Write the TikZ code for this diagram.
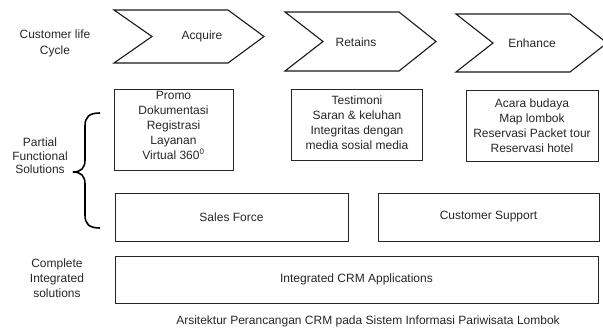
\documentclass[tikz,border=0pt]{standalone}
\usepackage{fontspec}
\setmainfont{Liberation Sans}
\begin{document}
\begin{tikzpicture}[x=1pt,y=-1pt,
  every node/.style={font=\fontsize{12}{15}\selectfont, text=black!85},
  chev/.style={draw=black!90, line width=1.1pt, line join=miter},
  box/.style={draw=black!85, line width=1pt, rectangle, inner sep=0pt},
  lbl/.style={align=center, inner sep=0pt},
  brace/.style={draw=black, line width=1.6pt}]
\useasboundingbox (0,0) rectangle (603,330);
% chevrons
\draw[chev] (114,10) -- (228,10) -- (264,36.5) -- (228,63) -- (114,63) -- (152,36.5) -- cycle;
\draw[chev] (285,12) -- (399,12) -- (436,41.5) -- (399,71) -- (285,71) -- (323,41.5) -- cycle;
\draw[chev] (456,14) -- (570,14) -- (607,43) -- (570,72) -- (456,72) -- (493,43) -- cycle;
\node[lbl] (acq) at (202,36) {Acquire};
\node[lbl] (ret) at (356,42) {Retains};
\node[lbl] (enh) at (532,43) {Enhance};
% left labels
\node[lbl, font=\fontsize{12}{16}\selectfont] (clc) at (55,43) {Customer life\\Cycle};
\node[lbl, font=\fontsize{12}{13.5}\selectfont] (pfs) at (40,156) {Partial\\Functional\\Solutions};
\node[lbl] (cis) at (57,278) {Complete\\Integrated\\solutions};
% brace
\draw[brace] (100,113) .. controls (89,113) and (85,117) .. (85,126) -- (85,160)
  .. controls (85,168) and (81,172) .. (73,172)
  .. controls (81,172) and (85,176) .. (85,184) -- (85,215)
  .. controls (85,224) and (89,228) .. (100,228);
% partial solution boxes
\node[box, minimum width=119pt, minimum height=81pt] (promo) at (173.5,129.5) {};
\node[lbl] (promoT) at (173.5,125) {Promo\\Dokumentasi\\Registrasi\\Layanan\\Virtual 360\textsuperscript{0}};
\node[box, minimum width=131pt, minimum height=71pt] (testi) at (356.5,124.5) {};
\node[lbl] (testiT) at (357,123) {Testimoni\\Saran \& keluhan\\Integritas dengan\\media sosial media};
\node[box, minimum width=132pt, minimum height=71pt] (acara) at (532,125.5) {};
\node[lbl] (acaraT) at (532,125.5) {Acara budaya\\Map lombok\\Reservasi Packet tour\\Reservasi hotel};
% sales / support
\node[box, minimum width=233pt, minimum height=48pt] (sales) at (231.5,217) {Sales Force};
\node[box, minimum width=221pt, minimum height=48pt] (support) at (488.5,217) {Customer Support};
% integrated
\node[box, minimum width=483pt, minimum height=47pt] (crm) at (356.5,279.5) {Integrated CRM Applications};
% caption
\node[lbl] (cap) at (368,321) {Arsitektur Perancangan CRM pada Sistem Informasi Pariwisata Lombok};
\end{tikzpicture}
\end{document}
